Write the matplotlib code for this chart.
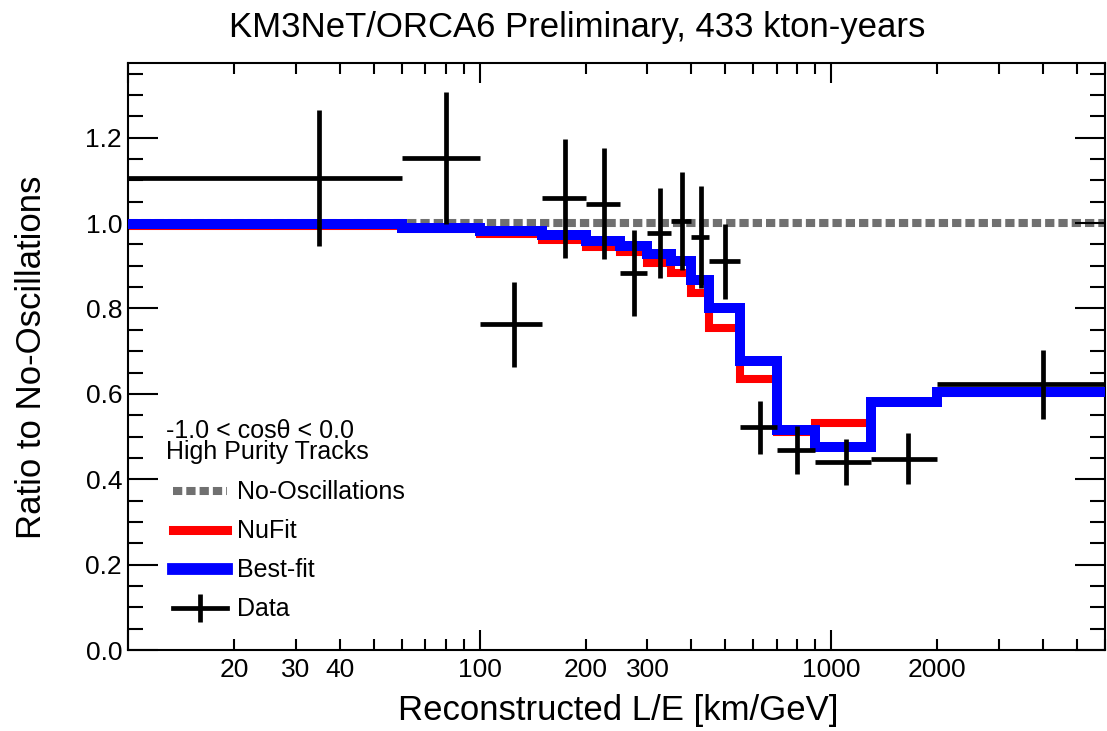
import numpy as np
import matplotlib
matplotlib.use('Agg')
import matplotlib.pyplot as plt
from matplotlib.lines import Line2D
from matplotlib.ticker import LogLocator, FuncFormatter, MultipleLocator

plt.rcParams['font.family'] = ['Liberation Sans', 'DejaVu Sans']

# L/E binning [km/GeV]
edges = [10, 60, 100, 150, 200, 250, 300, 350, 400, 450, 550, 700, 900, 1300, 2000, 6000]

# ratio to no-oscillation expectation, per bin
no_osc = [1.0] * 15
nufit = [0.993, 0.986, 0.975, 0.961, 0.944, 0.932, 0.906, 0.883, 0.836, 0.754,
         0.634, 0.511, 0.532, 0.580, 0.601]
best_fit = [0.998, 0.988, 0.982, 0.972, 0.959, 0.946, 0.928, 0.912, 0.866, 0.800,
            0.678, 0.515, 0.476, 0.582, 0.604]
data = [1.106, 1.152, 0.763, 1.058, 1.045, 0.883, 0.977, 1.004, 0.967, 0.911,
        0.522, 0.468, 0.440, 0.448, 0.622]
data_err = [0.160, 0.155, 0.100, 0.140, 0.130, 0.100, 0.105, 0.115, 0.120, 0.088,
            0.062, 0.056, 0.054, 0.060, 0.080]

x_tick_labels = [20, 30, 40, 100, 200, 300, 1000, 2000]

edges_arr = np.array(edges, dtype=float)
centers = 0.5 * (edges_arr[:-1] + edges_arr[1:])
xerr = [centers - edges_arr[:-1], edges_arr[1:] - centers]

fig = plt.figure(figsize=(11.07, 7.31), dpi=100)
ax = fig.add_axes([128 / 1107, 81 / 731, 977 / 1107, 587 / 731])

grey = '#707070'
dash = (0, (1.15, 0.5))
ax.stairs(no_osc, edges, baseline=None, color=grey, lw=5.8, linestyle=dash, zorder=1)
ax.stairs(nufit, edges, baseline=None, color='red', lw=5.8, zorder=2)
ax.stairs(best_fit, edges, baseline=None, color='blue', lw=7.2, zorder=3)
ax.errorbar(centers, data, xerr=xerr, yerr=data_err, fmt='none', ecolor='black',
            elinewidth=3.4, capsize=0, zorder=4)

ax.set_xscale('log')
ax.set_xlim(edges[0], edges[-1])
ax.set_ylim(0, 1.375)

ax.xaxis.set_major_locator(LogLocator(base=10, numticks=10))
ax.xaxis.set_minor_locator(LogLocator(base=10, subs=np.arange(2, 10), numticks=20))
xfmt = FuncFormatter(lambda v, pos: str(int(round(v))) if int(round(v)) in x_tick_labels else '')
ax.xaxis.set_major_formatter(xfmt)
ax.xaxis.set_minor_formatter(xfmt)
ax.yaxis.set_major_locator(MultipleLocator(0.2))
ax.yaxis.set_minor_locator(MultipleLocator(0.05))
ax.yaxis.set_major_formatter(FuncFormatter(lambda v, pos: f'{v:.1f}'))

ax.tick_params(which='both', direction='in', top=True, right=True, width=1.5,
               colors='black', labelsize=19)
ax.tick_params(axis='y', which='major', length=21.6, pad=4.3)
ax.tick_params(axis='y', which='minor', length=10.8)
ax.tick_params(axis='x', which='major', length=14.4, pad=6)
ax.tick_params(axis='x', which='minor', length=8, pad=6)
for s in ax.spines.values():
    s.set_linewidth(1.5)

fig.text(0.5217, 1 - 37 / 731, 'KM3NeT/ORCA6 Preliminary, 433 kton-years',
         ha='center', va='baseline', fontsize=25)
fig.text(618 / 1107, 1 - 720 / 731, 'Reconstructed L/E [km/GeV]',
         ha='center', va='baseline', fontsize=25)
fig.text(41 / 1107, 1 - 357 / 731, 'Ratio to No-Oscillations', rotation=90,
         rotation_mode='anchor', ha='center', va='baseline', fontsize=25)

# selection header above the legend
ax.text(0.039, 0.325, '-1.0 < cosθ < 0.0\nHigh Purity Tracks', transform=ax.transAxes,
        fontsize=18, va='baseline', ha='left', linespacing=0.88)

handles = [
    Line2D([], [], color=grey, lw=5.8, linestyle=dash),
    Line2D([], [], color='red', lw=6.5),
    Line2D([], [], color='blue', lw=8.5),
    Line2D([], [], color='black', lw=3.4, marker='|', markersize=20, markeredgewidth=3.4),
]
labels = ['No-Oscillations', 'NuFit', 'Best-fit', 'Data']
ax.legend(handles, labels, loc='upper left', bbox_to_anchor=(0.046, 0.2888),
          frameon=False, fontsize=18, borderpad=0, borderaxespad=0,
          handlelength=2.16, handletextpad=0.4, labelspacing=0.6, numpoints=1)

fig.savefig('out.png', dpi=100, facecolor='white')
